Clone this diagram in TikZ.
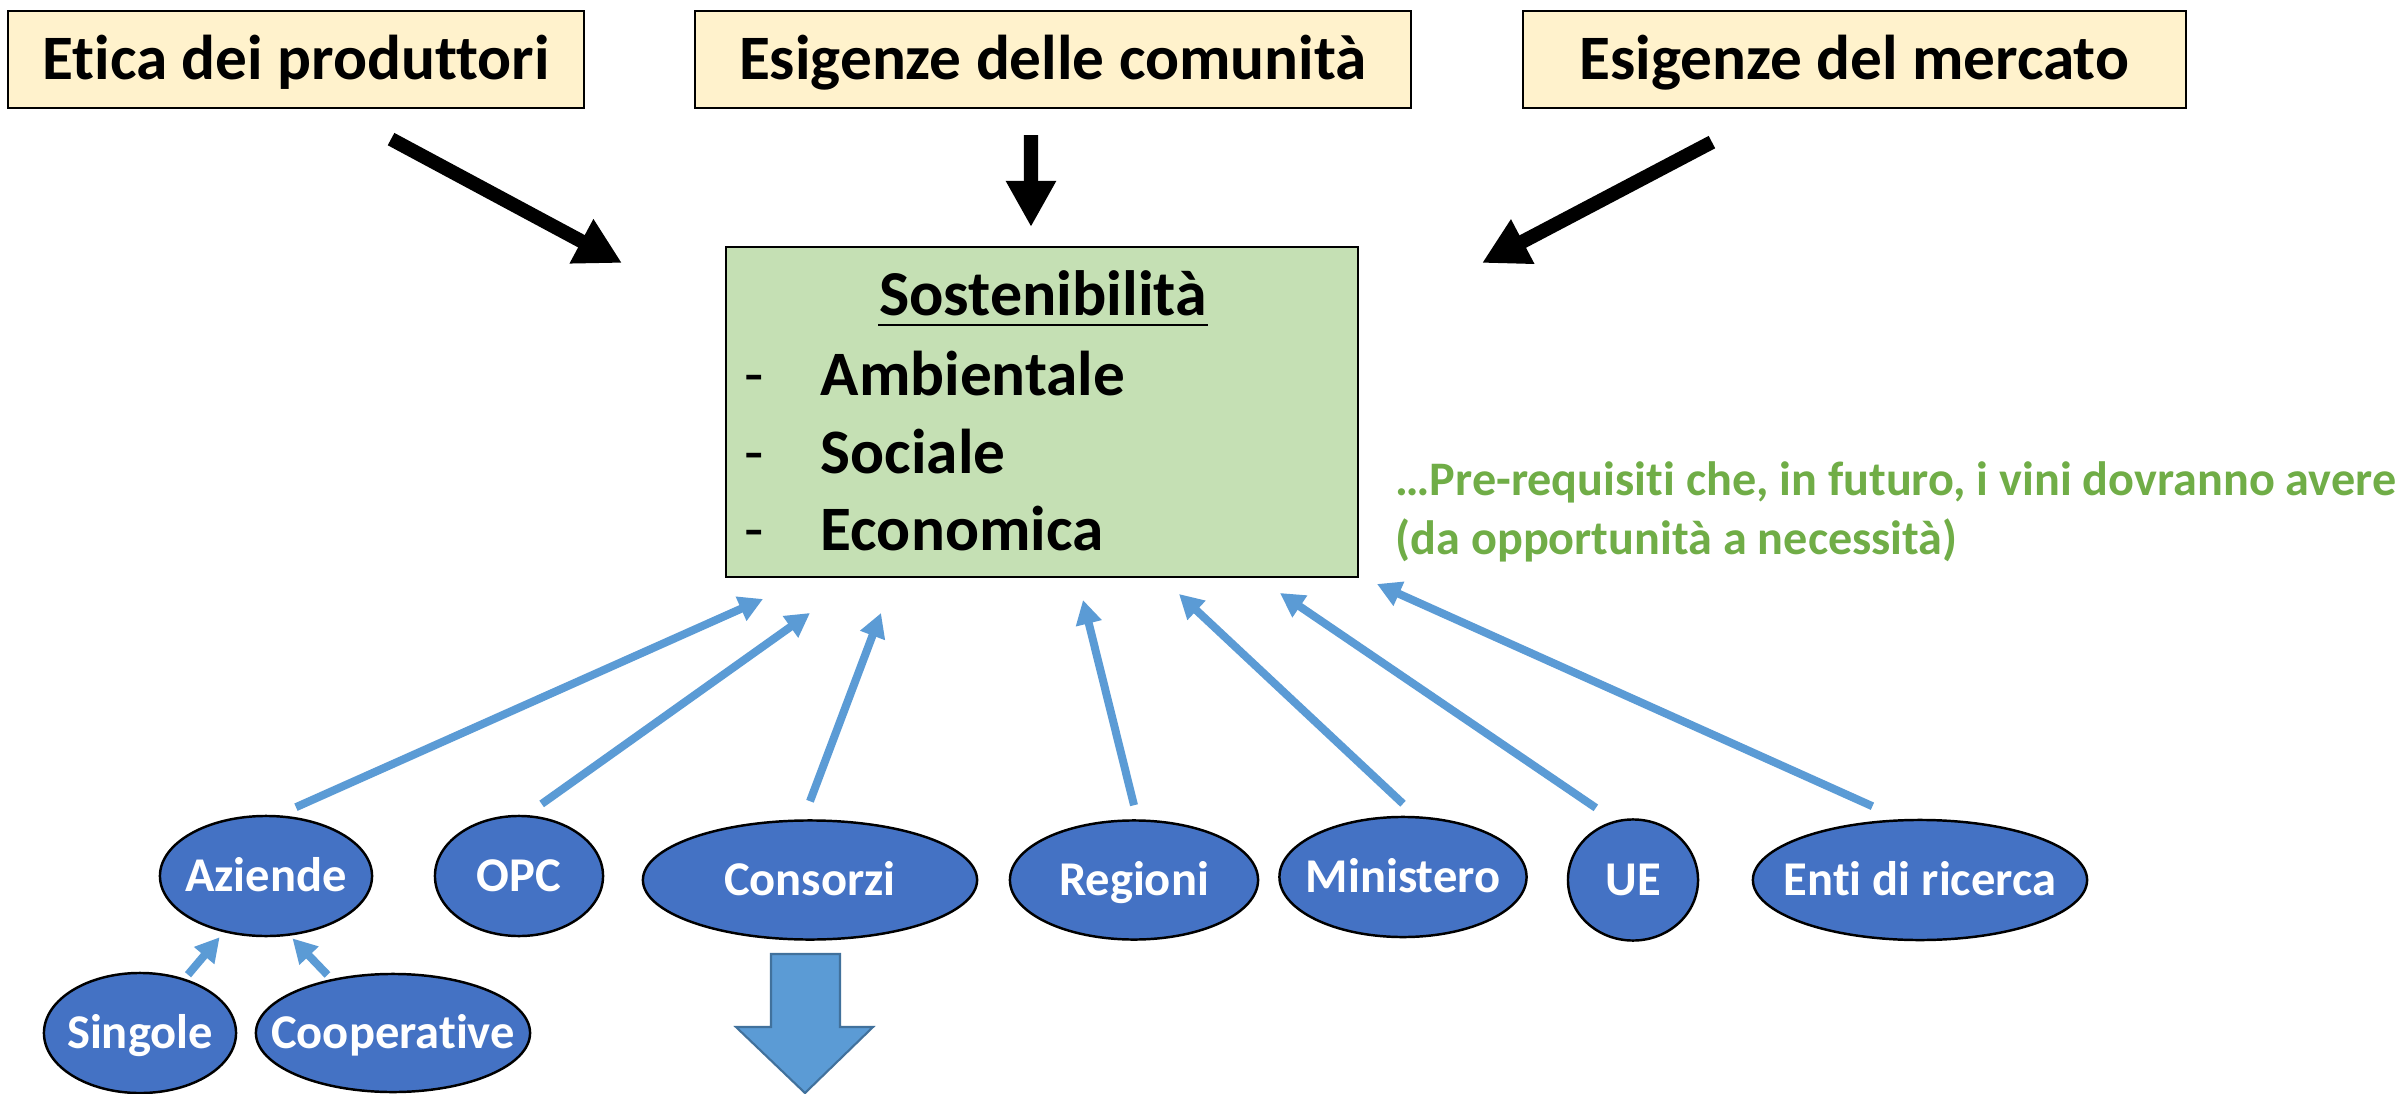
\documentclass[tikz,border=0pt]{standalone}
\usepackage{fontspec}
\setmainfont{Carlito}[Ligatures=NoCommon]
\usetikzlibrary{shapes.geometric,arrows.meta}
\definecolor{topfill}{HTML}{FFF2CC}
\definecolor{sostgreen}{HTML}{C5E0B4}
\definecolor{ellblue}{HTML}{4472C4}
\definecolor{arrblue}{HTML}{5B9BD5}
\definecolor{arrdark}{HTML}{41719C}
\definecolor{txtgreen}{HTML}{70AD47}
\newcommand{\ztxt}[1]{\makebox[0pt][c]{#1}}
\tikzset{
  topbox/.style={draw=black, line width=0.6pt, fill=topfill, inner sep=0pt,
    minimum height=0.97cm, font=\fontsize{18}{21}\selectfont\bfseries,
    text height=11.4pt, text depth=0pt},
  ell/.style={ellipse, draw=black, line width=0.7pt, fill=ellblue, text=white,
    inner sep=0pt, font=\fontsize{13.8}{16}\selectfont\bfseries,
    text height=8.7pt, text depth=0pt},
  blkarr/.style={line width=0.14cm, -{Triangle[length=0.46cm,width=0.47cm]}},
  bluarr/.style={draw=arrblue, line width=0.08cm, -{Triangle[length=0.24cm,width=0.25cm]}},
  listtxt/.style={inner sep=0pt, font=\fontsize{18}{21}\selectfont\bfseries},
  dashtxt/.style={inner sep=0pt, font=\fontsize{18}{21}\selectfont},
  greentxt/.style={inner sep=0pt, text=txtgreen, font=\fontsize{13.7}{16}\selectfont\bfseries}
}
\begin{document}
\begin{tikzpicture}[x=0.01cm,y=-0.01cm]
\useasboundingbox (0,0) rectangle (2396,1094);
\fill[white] (0,0) rectangle (2396,1094);

% top boxes
\node[topbox, minimum width=5.76cm] (etica) at (296,59.5) {Etica dei produttori};
\node[topbox, minimum width=7.16cm] (comun) at (1053,59.5) {Esigenze delle comunità};
\node[topbox, minimum width=6.63cm] (merc) at (1854.5,59.5) {Esigenze del mercato};

% central box
\node[draw=black, line width=0.6pt, fill=sostgreen, minimum width=6.32cm,
  minimum height=3.30cm, inner sep=0pt] (sost) at (1042,412) {};
\node[anchor=base, inner sep=0pt, font=\fontsize{18.2}{21}\selectfont\bfseries] (tit) at (1043,316) {Sostenibilità};
\draw[line width=0.8pt] ([yshift=-0.09cm]tit.base west) -- ([yshift=-0.09cm]tit.base east);
\node[dashtxt, anchor=base] (d1) at (754,396) {-};
\node[listtxt, anchor=base west] (l1) at (820,396) {Ambientale};
\node[dashtxt, anchor=base] (d2) at (754,473) {-};
\node[listtxt, anchor=base west] (l2) at (820,473) {Sociale};
\node[dashtxt, anchor=base] (d3) at (754,550) {-};
\node[listtxt, anchor=base west] (l3) at (820,550) {Economica};

% green note
\node[greentxt, anchor=base west] (g1) at (1395,495) {…Pre-requisiti che, in futuro, i vini dovranno avere};
\node[greentxt, anchor=base west] (g2) at (1395,554) {(da opportunità a necessità)};

% black arrows
\coordinate (tEt) at (622,263);
\coordinate (tCo) at (1031,227);
\coordinate (tMe) at (1482,263);
\draw[blkarr] ([xshift=0.95cm,yshift=-0.30cm]etica.south) -- (tEt);
\draw[blkarr] ([xshift=-0.22cm,yshift=-0.26cm]comun.south) -- (tCo);
\draw[blkarr] ([xshift=-1.425cm,yshift=-0.33cm]merc.south) -- (tMe);

% ellipses
\node[ell, minimum width=2.12cm, minimum height=1.20cm] (aziende) at (266,876) {\ztxt{Aziende}};
\node[ell, minimum width=1.68cm, minimum height=1.20cm] (opc) at (519,876) {\ztxt{OPC}};
\node[ell, minimum width=3.34cm, minimum height=1.19cm] (consorzi) at (810,880) {\ztxt{Consorzi}};
\node[ell, minimum width=2.48cm, minimum height=1.19cm] (regioni) at (1134,880) {\ztxt{Regioni}};
\node[ell, minimum width=2.47cm, minimum height=1.20cm] (ministero) at (1403,877) {\ztxt{Ministero}};
\node[ell, minimum width=1.30cm, minimum height=1.21cm] (ue) at (1633,880) {\ztxt{UE}};
\node[ell, minimum width=3.34cm, minimum height=1.20cm] (enti) at (1920,880) {\ztxt{Enti di ricerca}};
\node[ell, minimum width=1.92cm, minimum height=1.20cm] (singole) at (140,1033) {\ztxt{Singole}};
\node[ell, minimum width=2.74cm, minimum height=1.18cm] (coop) at (393,1033) {\ztxt{Cooperative}};

% blue arrows to the central box
\coordinate (tAz) at (763,599);
\coordinate (tOp) at (810,613);
\coordinate (tCs) at (881,613);
\coordinate (tRe) at (1083,600);
\coordinate (tMi) at (1179,594);
\coordinate (tUE) at (1280,593);
\coordinate (tEn) at (1377,584);
\draw[bluarr] ([yshift=0.10cm]aziende.63) -- (tAz);
\draw[bluarr] ([yshift=0.13cm]opc.69) -- (tOp);
\draw[bluarr] ([yshift=0.18cm]consorzi.north) -- (tCs);
\draw[bluarr] ([yshift=0.14cm]regioni.north) -- (tRe);
\draw[bluarr] ([yshift=0.12cm]ministero.north) -- (tMi);
\draw[bluarr] ([yshift=0.21cm]ue.126) -- (tUE);
\draw[bluarr] ([yshift=0.15cm]enti.129) -- (tEn);

% small arrows
\draw[bluarr] ([yshift=0.05cm]singole.48) -- ([yshift=-0.06cm]aziende.230);
\draw[bluarr] ([yshift=0.05cm]coop.141) -- ([yshift=-0.03cm]aziende.294);

% block arrow below Consorzi
\draw[fill=arrblue, draw=arrdark, line width=0.6pt, line join=miter]
  (771,954) -- (840,954) -- (840,1027) -- (873,1027) -- (805,1093)
  -- (736,1027) -- (771,1027) -- cycle;
\end{tikzpicture}
\end{document}
